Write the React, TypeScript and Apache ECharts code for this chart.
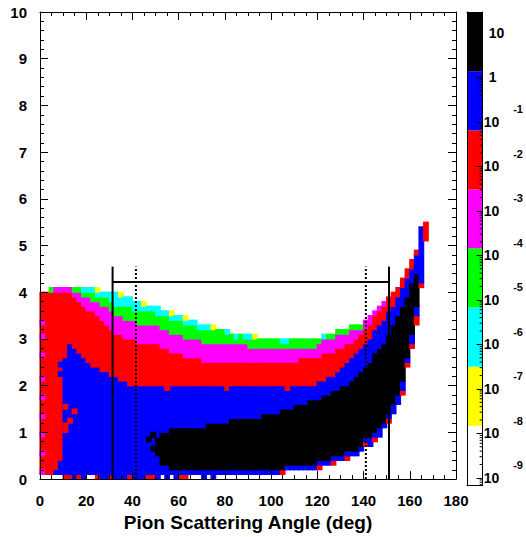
import React, { useEffect, useRef } from 'react';
import * as echarts from 'echarts';

const FONT = '"Liberation Sans", Arial, Helvetica, sans-serif';

// ---- histogram columns (bin lower edge, deg) ----
const angleBins = [
  0, 2, 4, 6, 8, 10, 12, 14, 16, 18,
  20, 22, 24, 26, 28, 30, 32, 34, 36, 38,
  40, 42, 44, 46, 48, 50, 52, 54, 56, 58,
  60, 62, 64, 66, 68, 70, 72, 74, 76, 78,
  80, 82, 84, 86, 88, 90, 92, 94, 96, 98,
  100, 102, 104, 106, 108, 110, 112, 114, 116, 118,
  120, 122, 124, 126, 128, 130, 132, 134, 136, 138,
  140, 142, 144, 146, 148, 150, 152, 154, 156, 158,
  160, 162, 164, 166,
];

// colour level of the lowest row (0 - 0.1 GeV): 0 empty, 5 red, 6 blue
const rowZeroLevel = [
  0, 0, 0, 0, 0, 5, 5, 6, 5, 6,
  0, 0, 5, 6, 6, 5, 6, 6, 6, 5,
  6, 6, 6, 5, 5, 6, 0, 6, 0, 6,
  5, 5, 0, 0, 0, 6, 0, 6, 0, 0,
  0, 0, 0, 0, 0, 0, 0, 0, 0, 0,
  0, 0, 0, 0, 0, 0, 0, 0, 0, 0,
  0, 0, 0, 0, 0, 0, 0, 0, 0, 0,
  0, 0, 0, 0, 0, 0, 0, 0, 0, 0,
  0, 0, 0, 0,
];

// band edges per column (momentum, bottom to top)
const edgeBottom = [
  0.1, 0.1, 0.1, 0.1, 0.1, 0.1, 0.1, 0.1, 0.1, 0.1,
  0.1, 0.1, 0.1, 0.1, 0.1, 0.1, 0.1, 0.1, 0.1, 0.1,
  0.1, 0.1, 0.1, 0.1, 0.1, 0.1, 0.1, 0.1, 0.1, 0.1,
  0.1, 0.1, 0.1, 0.1, 0.1, 0.1, 0.1, 0.1, 0.1, 0.1,
  0.1, 0.1, 0.1, 0.1, 0.1, 0.1, 0.1, 0.1, 0.1, 0.1,
  0.1, 0.1, 0.1, 0.2, 0.2, 0.2, 0.2, 0.2, 0.2, 0.2,
  0.2, 0.3, 0.3, 0.3, 0.4, 0.4, 0.4, 0.5, 0.5, 0.6,
  0.7, 0.7, 0.8, 0.9, 1.1, 1.2, 1.4, 1.6, 1.8, 2.4,
  2.8, 3.3, 4.1, 5.1,
];
const lowRedTop = [
  4.0, 4.0, 4.0, 0.1, 0.1, 0.1, 0.1, 0.1, 0.1, 0.1,
  0.1, 0.1, 0.1, 0.1, 0.1, 0.1, 0.1, 0.1, 0.1, 0.1,
  0.1, 0.1, 0.1, 0.1, 0.1, 0.1, 0.1, 0.1, 0.1, 0.1,
  0.1, 0.1, 0.1, 0.1, 0.1, 0.1, 0.1, 0.1, 0.1, 0.1,
  0.1, 0.1, 0.1, 0.1, 0.1, 0.1, 0.1, 0.1, 0.1, 0.1,
  0.1, 0.1, 0.2, 0.2, 0.2, 0.2, 0.2, 0.2, 0.2, 0.2,
  0.3, 0.3, 0.3, 0.4, 0.4, 0.4, 0.5, 0.5, 0.5, 0.6,
  0.8, 0.7, 0.9, 0.9, 1.1, 1.3, 1.4, 1.6, 1.9, 2.5,
  2.9, 3.5, 4.2, 5.5,
];
const blackBottom = [
  4.0, 4.0, 4.0, 0.2, 0.4, 2.6, 2.9, 2.8, 2.7, 2.6,
  2.5, 2.4, 2.4, 2.3, 2.3, 2.2, 2.2, 2.1, 2.1, 2.0,
  2.0, 2.0, 2.0, 2.0, 2.0, 0.5, 0.3, 0.3, 0.2, 0.2,
  0.2, 0.2, 0.2, 0.2, 0.2, 0.2, 0.2, 0.2, 0.2, 0.2,
  0.2, 0.2, 0.2, 0.2, 0.2, 0.2, 0.2, 0.2, 0.2, 0.2,
  0.2, 0.2, 0.2, 0.3, 0.3, 0.3, 0.3, 0.3, 0.3, 0.3,
  0.4, 0.4, 0.4, 0.5, 0.5, 0.5, 0.6, 0.6, 0.6, 0.7,
  0.9, 0.9, 1.0, 1.1, 1.2, 1.4, 1.6, 1.8, 2.1, 2.6,
  3.1, 3.7, 4.2, 5.5,
];
const blackTop = [
  4.0, 4.0, 4.0, 0.2, 0.4, 2.6, 2.9, 2.8, 2.7, 2.6,
  2.5, 2.4, 2.4, 2.3, 2.3, 2.2, 2.2, 2.1, 2.1, 2.0,
  2.0, 2.0, 2.0, 2.0, 2.0, 0.9, 1.0, 1.0, 1.1, 1.1,
  1.1, 1.1, 1.1, 1.1, 1.1, 1.1, 1.2, 1.2, 1.2, 1.2,
  1.2, 1.3, 1.3, 1.3, 1.3, 1.3, 1.3, 1.3, 1.4, 1.4,
  1.4, 1.4, 1.5, 1.5, 1.5, 1.6, 1.6, 1.6, 1.7, 1.7,
  1.7, 1.8, 1.8, 1.9, 1.9, 2.0, 2.0, 2.1, 2.2, 2.3,
  2.4, 2.5, 2.7, 2.8, 2.9, 3.1, 3.3, 3.5, 3.7, 3.9,
  4.2, 4.4, 4.2, 5.5,
];
const blueTop = [
  4.0, 4.0, 4.0, 0.2, 0.4, 2.6, 2.9, 2.8, 2.7, 2.6,
  2.5, 2.4, 2.4, 2.3, 2.3, 2.2, 2.2, 2.1, 2.1, 2.0,
  2.0, 2.0, 2.0, 2.0, 2.0, 2.0, 2.0, 2.0, 2.0, 2.0,
  2.0, 2.0, 2.0, 2.0, 2.0, 2.0, 2.0, 2.0, 2.0, 2.0,
  1.9, 2.0, 2.0, 2.0, 2.0, 2.0, 2.0, 2.0, 2.0, 2.0,
  2.0, 2.0, 2.0, 2.0, 2.0, 2.0, 2.0, 2.0, 2.0, 2.0,
  2.1, 2.1, 2.2, 2.2, 2.3, 2.4, 2.5, 2.6, 2.7, 2.8,
  2.9, 3.0, 3.2, 3.3, 3.4, 3.6, 3.7, 3.9, 4.1, 4.3,
  4.5, 4.8, 5.4, 5.5,
];
const redTop = [
  4.0, 4.0, 4.0, 4.0, 4.0, 4.0, 4.0, 3.9, 3.8, 3.7,
  3.6, 3.6, 3.5, 3.4, 3.3, 3.2, 3.1, 3.1, 3.0, 3.0,
  3.0, 2.9, 2.9, 2.9, 2.9, 2.9, 2.8, 2.8, 2.7, 2.7,
  2.7, 2.6, 2.6, 2.6, 2.6, 2.5, 2.5, 2.5, 2.5, 2.5,
  2.5, 2.5, 2.5, 2.5, 2.5, 2.5, 2.5, 2.5, 2.5, 2.5,
  2.5, 2.5, 2.5, 2.5, 2.5, 2.5, 2.6, 2.6, 2.6, 2.6,
  2.6, 2.7, 2.7, 2.7, 2.8, 2.8, 2.9, 2.9, 3.0, 3.1,
  3.2, 3.3, 3.5, 3.6, 3.7, 3.9, 4.0, 4.1, 4.3, 4.5,
  4.7, 4.9, 5.4, 5.5,
];
const magentaTop = [
  4.0, 4.0, 4.0, 4.1, 4.1, 4.1, 4.1, 4.0, 4.0, 3.9,
  3.9, 3.8, 3.8, 3.7, 3.7, 3.6, 3.5, 3.5, 3.4, 3.4,
  3.4, 3.3, 3.3, 3.3, 3.3, 3.3, 3.2, 3.2, 3.1, 3.1,
  3.1, 3.0, 3.0, 3.0, 3.0, 2.9, 2.9, 2.9, 2.9, 2.9,
  2.9, 2.9, 2.9, 2.9, 2.9, 2.8, 2.8, 2.8, 2.8, 2.8,
  2.8, 2.8, 2.8, 2.8, 2.8, 2.8, 2.8, 2.8, 2.8, 2.8,
  2.9, 3.0, 3.0, 3.0, 3.1, 3.1, 3.1, 3.2, 3.2, 3.2,
  3.4, 3.5, 3.6, 3.7, 3.8, 3.9, 4.0, 4.1, 4.3, 4.5,
  4.7, 4.9, 5.4, 5.5,
];
const greenTop = [
  4.0, 4.0, 4.1, 4.1, 4.1, 4.1, 4.1, 4.1, 4.1, 4.0,
  4.0, 4.0, 3.9, 3.9, 3.9, 3.8, 3.7, 3.7, 3.7, 3.7,
  3.6, 3.6, 3.6, 3.6, 3.6, 3.5, 3.5, 3.5, 3.4, 3.4,
  3.4, 3.3, 3.3, 3.3, 3.2, 3.2, 3.2, 3.2, 3.2, 3.2,
  3.1, 3.1, 3.0, 3.1, 3.0, 3.0, 3.0, 3.0, 3.0, 3.0,
  3.0, 3.0, 2.9, 2.9, 3.0, 3.0, 3.0, 3.0, 3.0, 3.0,
  3.0, 3.0, 3.1, 3.1, 3.2, 3.2, 3.2, 3.3, 3.3, 3.3,
  3.4, 3.5, 3.6, 3.7, 3.8, 3.9, 4.0, 4.1, 4.3, 4.5,
  4.7, 4.9, 5.4, 5.5,
];
const cyanTop = [
  4.0, 4.0, 4.1, 4.1, 4.1, 4.1, 4.1, 4.1, 4.1, 4.1,
  4.1, 4.1, 4.0, 4.0, 4.0, 4.0, 4.0, 3.9, 3.9, 3.9,
  3.8, 3.8, 3.7, 3.7, 3.7, 3.7, 3.6, 3.6, 3.5, 3.5,
  3.5, 3.4, 3.4, 3.4, 3.3, 3.3, 3.3, 3.2, 3.2, 3.2,
  3.2, 3.1, 3.1, 3.1, 3.1, 3.1, 3.0, 3.0, 3.0, 3.0,
  3.0, 3.0, 3.0, 3.0, 3.0, 3.0, 3.0, 3.0, 3.0, 3.0,
  3.0, 3.1, 3.1, 3.1, 3.2, 3.2, 3.2, 3.3, 3.3, 3.3,
  3.4, 3.5, 3.6, 3.7, 3.8, 3.9, 4.0, 4.1, 4.3, 4.5,
  4.7, 4.9, 5.4, 5.5,
];
const yellowTop = [
  4.0, 4.0, 4.1, 4.1, 4.1, 4.1, 4.1, 4.1, 4.1, 4.1,
  4.1, 4.1, 4.1, 4.0, 4.0, 4.0, 4.0, 4.0, 3.9, 3.9,
  3.8, 3.8, 3.8, 3.7, 3.7, 3.7, 3.6, 3.6, 3.6, 3.5,
  3.5, 3.5, 3.4, 3.4, 3.3, 3.3, 3.3, 3.3, 3.2, 3.2,
  3.2, 3.1, 3.1, 3.1, 3.1, 3.1, 3.1, 3.0, 3.0, 3.0,
  3.0, 3.0, 3.0, 3.0, 3.0, 3.0, 3.0, 3.0, 3.0, 3.0,
  3.0, 3.1, 3.1, 3.1, 3.2, 3.2, 3.2, 3.3, 3.3, 3.3,
  3.4, 3.5, 3.6, 3.7, 3.8, 3.9, 4.0, 4.1, 4.3, 4.5,
  4.7, 4.9, 5.4, 5.5,
];

// isolated cells [angle bin, momentum row, level]
const specks = [
  [0, 3.3, 4], [0, 3.0, 4], [0, 2.6, 4], [0, 2.1, 4], [0, 1.7, 4],
  [0, 1.3, 4], [0, 0.9, 4], [0, 0.5, 4], [0, 0.1, 4],
  [10, 1.0, 5], [10, 1.1, 5], [10, 1.5, 5], [12, 1.2, 5], [14, 1.4, 5],
  [8, 2.2, 6], [8, 2.4, 6],
  [54, 1.9, 5], [106, 1.9, 5],
  [46, 0.8, 7], [48, 0.9, 7], [48, 0.6, 7],
];

// colour levels: 0 empty, 1 yellow, 2 cyan, 3 green, 4 magenta, 5 red, 6 blue, 7 black
const palette = ['#ffffff', '#ffff00', '#00ffff', '#00ff00', '#ff00ff', '#ff0000', '#0000ff', '#000000'];
const bandLevels = [5, 6, 7, 6, 5, 4, 3, 2, 1];
// log10 contour levels of the colour scale (bottom to top)
const contourExp = [-9.16, -7.83, -6.5, -5.17, -3.84, -2.52, -1.19, 0.14, 1.47];
const minorMultipliers = [2, 3, 4, 5, 6, 7, 8, 9];

// cut lines
const solidCutAngles = [31.4, 151];
const dottedCutAngles = [41.5, 141];
const cutLineTop = 4.55;
const cutMomentum = 4.22;

const binWidth = 2;
const rowHeight = 0.1;

function buildCells() {
  const edges = [edgeBottom, lowRedTop, blackBottom, blackTop, blueTop, redTop, magentaTop, greenTop, cyanTop, yellowTop];
  const cells: number[][] = [];
  angleBins.forEach((x, i) => {
    if (rowZeroLevel[i] > 0) cells.push([x, x + binWidth, 0, rowHeight, rowZeroLevel[i]]);
    for (let k = 0; k < 9; k++) {
      const lo = edges[k][i];
      const hi = edges[k + 1][i];
      if (hi > lo + 1e-9) cells.push([x, x + binWidth, lo, hi, bandLevels[k]]);
    }
  });
  specks.forEach(([x, y, l]) => cells.push([x, x + binWidth, y, y + rowHeight, l]));
  return cells;
}

function buildColorbar() {
  const out: number[][] = [];
  for (let i = 0; i < contourExp.length - 1; i++) out.push([0, 1, contourExp[i], contourExp[i + 1], i]);
  return out;
}

function buildMinorTicks() {
  const out: number[][] = [];
  const lo = contourExp[0];
  const hi = contourExp[contourExp.length - 1];
  for (let n = Math.floor(lo); n <= Math.ceil(hi); n++) {
    minorMultipliers.forEach((m) => {
      const e = n + Math.log10(m);
      if (e > lo && e < hi) out.push([1, e]);
    });
  }
  return out;
}

const rectItem = (api: any, color: string, overlap: number) => {
  const p0 = api.coord([api.value(0), api.value(2)]);
  const p1 = api.coord([api.value(1), api.value(3)]);
  return {
    type: 'rect',
    shape: {
      x: p0[0] - overlap / 2,
      y: p1[1] - overlap / 2,
      width: p1[0] - p0[0] + overlap,
      height: p0[1] - p1[1] + overlap,
    },
    style: { fill: color },
  };
};

const black = '#000';
const frameLine = { show: true, onZero: false, lineStyle: { color: black, width: 1 } };
const labelFont = { fontFamily: FONT, fontWeight: 'bold' as const, fontSize: 15, color: black };

export default function App() {
  const ref = useRef<HTMLDivElement>(null);
  useEffect(() => {
    if (!ref.current) return;
    const chart = echarts.init(ref.current, undefined, { renderer: 'svg' });
    const cutSeries: any[] = [];
    solidCutAngles.forEach((a) => cutSeries.push({ data: [[a, 0], [a, cutLineTop]], dotted: false }));
    dottedCutAngles.forEach((a) => cutSeries.push({ data: [[a, 0], [a, cutLineTop]], dotted: true }));
    cutSeries.push({ data: [[solidCutAngles[0], cutMomentum], [solidCutAngles[1], cutMomentum]], dotted: false });

    const option: any = {
      animation: false,
      backgroundColor: '#ffffff',
      grid: [
        { left: 40, top: 12, width: 416, height: 473 },
        { left: 467, top: 12, width: 16, height: 473 },
      ],
      xAxis: [
        {
          gridIndex: 0, type: 'value', min: 0, max: 180, interval: 20, position: 'bottom', z: 10,
          axisLine: frameLine,
          axisTick: { show: true, inside: true, length: 8, lineStyle: { color: black } },
          minorTick: { show: true, splitNumber: 4, length: 4, lineStyle: { color: black } },
          axisLabel: { ...labelFont, margin: 14 },
          splitLine: { show: false },
          name: 'Pion Scattering Angle (deg)', nameLocation: 'middle', nameGap: 29,
          nameTextStyle: { fontFamily: FONT, fontWeight: 'bold', fontSize: 19, color: black },
        },
        {
          gridIndex: 0, type: 'value', min: 0, max: 180, interval: 20, position: 'top', z: 10,
          axisLine: frameLine,
          axisTick: { show: true, inside: true, length: 8, lineStyle: { color: black } },
          minorTick: { show: true, splitNumber: 4, length: 4, lineStyle: { color: black } },
          axisLabel: { show: false }, splitLine: { show: false },
        },
        {
          gridIndex: 1, type: 'value', min: 0, max: 1, position: 'bottom', z: 10,
          axisLine: frameLine, axisTick: { show: false }, axisLabel: { show: false }, splitLine: { show: false },
        },
        {
          gridIndex: 1, type: 'value', min: 0, max: 1, position: 'top', z: 10,
          axisLine: frameLine, axisTick: { show: false }, axisLabel: { show: false }, splitLine: { show: false },
        },
      ],
      yAxis: [
        {
          gridIndex: 0, type: 'value', min: 0, max: 10, interval: 1, position: 'left', z: 10,
          axisLine: frameLine,
          axisTick: { show: true, inside: true, length: 8, lineStyle: { color: black } },
          minorTick: { show: true, splitNumber: 5, length: 4, lineStyle: { color: black } },
          axisLabel: { ...labelFont, margin: 13, padding: [3, 0, 0, 0] },
          splitLine: { show: false },
        },
        {
          gridIndex: 0, type: 'value', min: 0, max: 10, interval: 1, position: 'right', z: 10,
          axisLine: frameLine,
          axisTick: { show: true, inside: true, length: 8, lineStyle: { color: black } },
          minorTick: { show: true, splitNumber: 5, length: 4, lineStyle: { color: black } },
          axisLabel: { show: false }, splitLine: { show: false },
        },
        {
          gridIndex: 1, type: 'value', min: contourExp[0], max: contourExp[contourExp.length - 1],
          position: 'left', z: 10,
          axisLine: frameLine, axisTick: { show: false }, axisLabel: { show: false }, splitLine: { show: false },
        },
        {
          gridIndex: 1, type: 'value', min: contourExp[0], max: contourExp[contourExp.length - 1],
          splitNumber: 10, position: 'right', z: 10,
          axisLine: frameLine,
          axisTick: { show: true, inside: true, length: 6, lineStyle: { color: black } },
          splitLine: { show: false },
          axisLabel: {
            margin: 1,
            formatter: (v: number) => {
              const e = Math.round(v);
              if (Math.abs(v - e) > 1e-6) return '';
              if (e === 1) return '{t|10}';
              if (e === 0) return '{t|1}';
              return `{b|10}{e|${e}}`;
            },
            rich: {
              t: { fontFamily: FONT, fontWeight: 'bold', fontSize: 14, color: black, lineHeight: 36, padding: [0, 0, 0, 5] },
              b: { fontFamily: FONT, fontWeight: 'bold', fontSize: 14, color: black, lineHeight: 36 },
              e: { fontFamily: FONT, fontWeight: 'bold', fontSize: 11, color: black, lineHeight: 12, verticalAlign: 'top', padding: [0, 0, 0, 14] },
            },
          },
        },
      ],
      series: [
        {
          type: 'custom', xAxisIndex: 0, yAxisIndex: 0, silent: true, z: 2,
          data: buildCells(),
          encode: { x: [0, 1], y: [2, 3] },
          renderItem: (_p: any, api: any) => rectItem(api, palette[api.value(4)], 1.2),
        },
        ...cutSeries.map((c) => ({
          type: 'line', xAxisIndex: 0, yAxisIndex: 0, silent: true, z: 5,
          symbol: 'none', data: c.data,
          lineStyle: { color: black, width: 2, type: c.dotted ? [2, 2] : 'solid' },
        })),
        {
          type: 'custom', xAxisIndex: 2, yAxisIndex: 2, silent: true, z: 2,
          data: buildColorbar(),
          encode: { x: [0, 1], y: [2, 3] },
          renderItem: (_p: any, api: any) => rectItem(api, palette[api.value(4)], 0),
        },
        {
          type: 'custom', xAxisIndex: 2, yAxisIndex: 2, silent: true, z: 4,
          data: buildMinorTicks(),
          encode: { x: 0, y: 1 },
          renderItem: (_p: any, api: any) => {
            const p = api.coord([api.value(0), api.value(1)]);
            return {
              type: 'line',
              shape: { x1: p[0] - 3, y1: p[1], x2: p[0], y2: p[1] },
              style: { stroke: black, lineWidth: 1 },
            };
          },
        },
      ],
    };
    chart.setOption(option);
    return () => chart.dispose();
  }, []);
  return (
    <div
      ref={ref}
      style={{ position: 'fixed', left: 0, top: 0, width: 526, height: 537, background: '#fff' }}
    />
  );
}
